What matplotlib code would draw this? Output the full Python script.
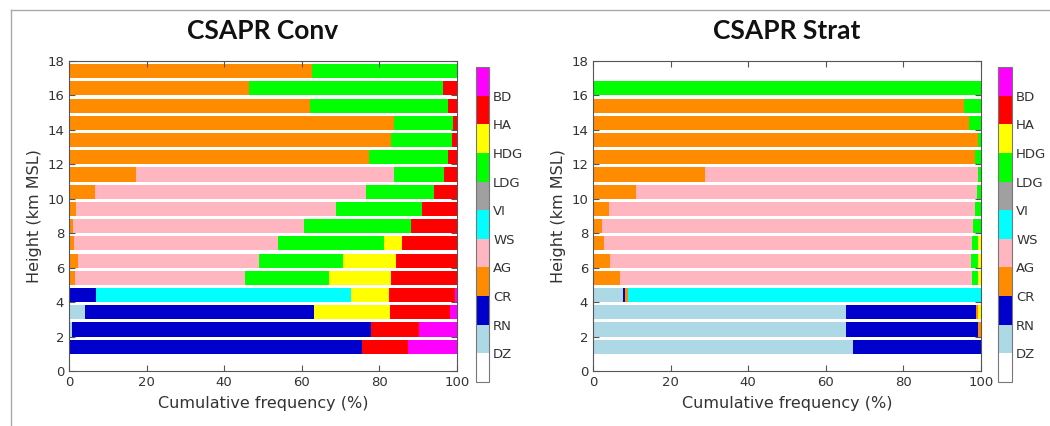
import numpy as np
import matplotlib
matplotlib.use("Agg")
import matplotlib.pyplot as plt
from matplotlib.colors import ListedColormap, BoundaryNorm
from matplotlib.colorbar import ColorbarBase
from matplotlib.lines import Line2D

# hydrometeor classes, bottom-to-top in the stack
classes = ["DZ", "RN", "CR", "AG", "WS", "VI", "LDG", "HDG", "HA", "BD"]
class_colors = ["#ADD8E6", "#0000CD", "#FF8C00", "#FFB6C1", "#00FFFF",
                "#A0A0A0", "#00FF00", "#FFFF00", "#FF0000", "#FF00FF"]
heights = list(range(1, 18))

# frequency (%) of each class per height, convective
conv = {
    "DZ":  [0.3, 0.8, 4.0, 0, 0, 0, 0, 0, 0, 0, 0, 0, 0, 0, 0, 0, 0],
    "RN":  [75.1, 77.0, 59.2, 6.9, 0, 0, 0, 0, 0, 0, 0, 0, 0, 0, 0, 0, 0],
    "CR":  [0, 0, 0, 0, 1.5, 2.3, 1.2, 1.0, 1.7, 6.8, 17.4, 77.4, 83.0, 83.8, 62.1, 46.5, 62.7],
    "AG":  [0, 0, 0, 0, 43.8, 46.6, 52.8, 59.7, 67.0, 69.8, 66.4, 0, 0, 0, 0, 0, 0],
    "WS":  [0, 0, 0, 65.9, 0, 0, 0, 0, 0, 0, 0, 0, 0, 0, 0, 0, 0],
    "VI":  [0] * 17,
    "LDG": [0, 0, 0, 0, 21.8, 21.8, 27.3, 27.4, 22.4, 17.5, 12.8, 20.4, 15.7, 15.2, 35.7, 49.8, 37.3],
    "HDG": [0, 0, 19.6, 9.8, 16.0, 13.6, 4.5, 0, 0, 0, 0, 0, 0, 0, 0, 0, 0],
    "HA":  [11.9, 12.4, 15.3, 16.8, 16.9, 15.7, 14.2, 11.9, 8.9, 5.9, 3.4, 2.2, 1.3, 1.0, 2.2, 3.7, 0],
    "BD":  [12.7, 9.8, 1.9, 0.6, 0, 0, 0, 0, 0, 0, 0, 0, 0, 0, 0, 0, 0],
}

# frequency (%) of each class per height, stratiform (nothing at 17 km)
strat = {
    "DZ":  [67.0, 65.3, 65.2, 7.6, 0, 0, 0, 0, 0, 0, 0, 0, 0, 0, 0, 0, 0],
    "RN":  [33.0, 33.8, 33.4, 0.7, 0, 0, 0, 0, 0, 0, 0, 0, 0, 0, 0, 0, 0],
    "CR":  [0, 0.9, 0.7, 0.7, 6.9, 4.4, 2.8, 2.3, 4.0, 11.0, 28.8, 98.5, 99.1, 97.0, 95.7, 0, 0],
    "AG":  [0, 0, 0, 0, 90.9, 93.0, 94.8, 95.7, 94.5, 87.9, 70.5, 0, 0, 0, 0, 0, 0],
    "WS":  [0, 0, 0, 91.0, 0, 0, 0, 0, 0, 0, 0, 0, 0, 0, 0, 0, 0],
    "VI":  [0] * 17,
    "LDG": [0, 0, 0, 0, 1.5, 1.9, 1.7, 2.0, 1.5, 1.1, 0.7, 1.5, 0.9, 3.0, 4.3, 100.0, 0],
    "HDG": [0, 0, 0.7, 0, 0.7, 0.7, 0.7, 0, 0, 0, 0, 0, 0, 0, 0, 0, 0],
    "HA":  [0] * 17,
    "BD":  [0] * 17,
}

titles = ["CSAPR Conv", "CSAPR Strat"]

TXT = "#333333"

def draw_panel(ax, freq, title):
    left = np.zeros(len(heights))
    for name, col in zip(classes, class_colors):
        vals = np.array(freq[name], dtype=float)
        ax.barh(heights, vals, left=left, height=0.82, align="edge",
                color=col, linewidth=0)
        left += vals
    ax.set_xlim(0, 100)
    ax.set_ylim(0, 18)
    ax.set_xticks(range(0, 101, 20))
    ax.set_yticks(range(0, 19, 2))
    ax.tick_params(direction="in", top=True, right=True, labelsize=9.5,
                   colors="#555555", labelcolor=TXT, length=4)
    for s in ax.spines.values():
        s.set_color("#555555")
    ax.set_xlabel("Cumulative frequency (%)", fontsize=11.5, color=TXT, labelpad=5)
    ax.set_ylabel("Height (km MSL)", fontsize=11.5, color=TXT, labelpad=4)
    ax.set_title(title, fontsize=19, fontweight="bold", family="Lato",
                 color="#111111", pad=16)

def draw_cbar(cax):
    cmap = ListedColormap(["#FFFFFF"] + class_colors)
    norm = BoundaryNorm(np.arange(0, 12), cmap.N)
    cb = ColorbarBase(cax, cmap=cmap, norm=norm, orientation="vertical")
    cb.set_ticks(np.arange(1, 11))
    cb.set_ticklabels(classes)
    cb.ax.minorticks_off()
    cb.ax.tick_params(length=0, labelsize=9.5, labelcolor=TXT, pad=3)
    cb.outline.set_edgecolor("#777777")

fig = plt.figure(figsize=(10.5, 4.26), dpi=100)

ax1 = fig.add_axes([0.0657, 0.1291, 0.3695, 0.7277])
ax2 = fig.add_axes([0.5648, 0.1291, 0.3695, 0.7277])
cax1 = fig.add_axes([0.4533, 0.1033, 0.0124, 0.7394])
cax2 = fig.add_axes([0.9505, 0.1033, 0.0133, 0.7394])

draw_panel(ax1, conv, titles[0])
draw_panel(ax2, strat, titles[1])
draw_cbar(cax1)
draw_cbar(cax2)

# slide frame lines (left and top)
fig.add_artist(Line2D([11 / 1050, 11 / 1050], [0, 1 - 10 / 426],
                      transform=fig.transFigure, color="#AAAAAA", lw=1))
fig.add_artist(Line2D([11 / 1050, 1], [1 - 10 / 426, 1 - 10 / 426],
                      transform=fig.transFigure, color="#AAAAAA", lw=1))

fig.savefig("out.png", dpi=100)
